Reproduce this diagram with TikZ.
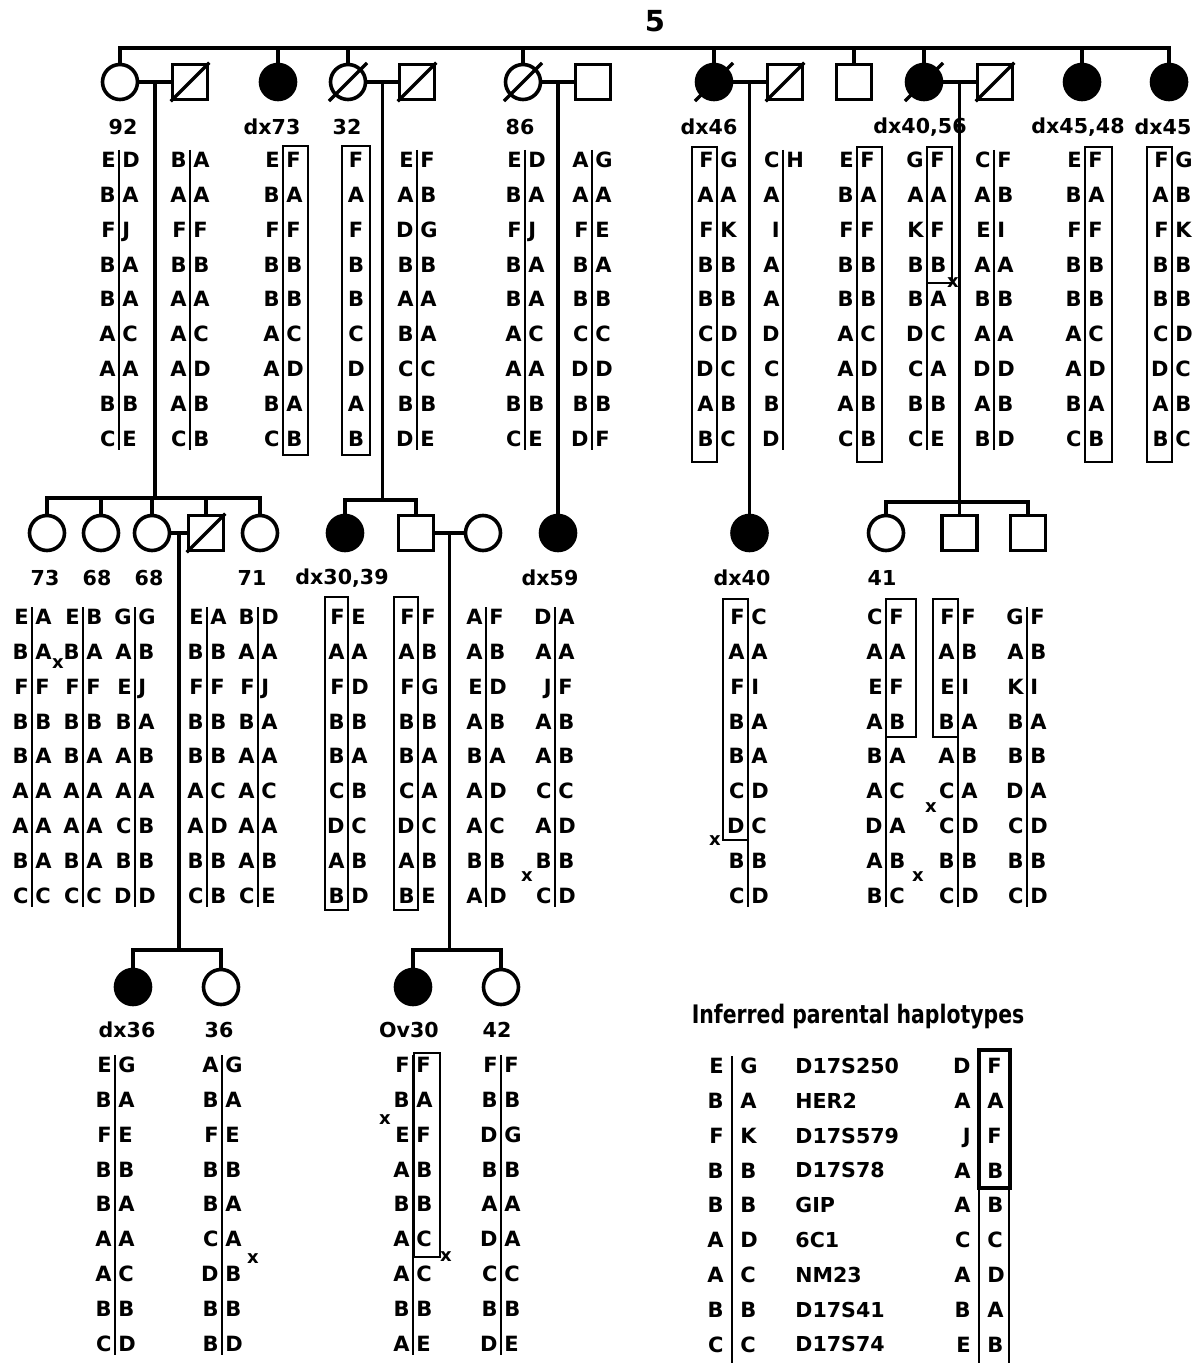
\documentclass[tikz,border=0pt]{standalone}
\usepackage{fontspec}
\setmainfont{DejaVu Sans}
\usetikzlibrary{calc}

\newcommand{\allelefont}{\fontsize{10.5}{12}\selectfont\bfseries}
\newcommand{\labelfont}{\fontsize{10.3}{12}\selectfont\bfseries}
\newcommand{\crossfont}{\fontsize{9}{9}\selectfont\bfseries}
\newcommand{\rowstep}{34.8}

% haplotype pair: [gap]{name}{x of bar}{y of first row}{left alleles}{right alleles}
\newcommand{\geno}[6][3]{%
  \draw[hapline] (#3,#4-10) -- (#3,#4+290);
  \foreach \a [count=\i from 0] in {#5}
    \node[allele, anchor=east] (#2-l\i) at (#3-#1,#4+\i*\rowstep) {\a};
  \foreach \a [count=\i from 0] in {#6}
    \node[allele, anchor=west] (#2-r\i) at (#3+#1,#4+\i*\rowstep) {\a};
}

% slash through a deceased symbol
\newcommand{\deceased}[2][1]{%
  \draw[link] ($(#2.center)!#1!(#2.south west)$) -- ($(#2.center)!#1!(#2.north east)$);}

\begin{document}
\begin{tikzpicture}[
    x=0.5pt, y=-0.5pt,
    female/.style={circle, draw, line width=1.8pt, minimum size=17.5pt, inner sep=0pt},
    male/.style={rectangle, draw, line width=1.8pt, minimum size=17.5pt, inner sep=0pt},
    affected/.style={fill=black},
    link/.style={line width=1.6pt},
    hapline/.style={line width=0.8pt},
    hapbox/.style={line width=0.8pt},
    allele/.style={font=\allelefont, inner sep=0pt, text height=7.7pt, text depth=0pt},
    idlabel/.style={font=\labelfont, inner sep=0pt},
    cross/.style={font=\crossfont, inner sep=0pt}
]
\useasboundingbox (0,0) rectangle (1199,1363);

\node[font=\fontsize{14.5}{16}\selectfont\bfseries] (famno) at (655,21) {5};

% Generation I
\node[female] (p92) at (120,82) {};
\node[male] (s92) at (190,82) {};
\node[female, affected] (pdx73) at (278,82) {};
\node[female] (p32) at (348,82) {};
\node[male] (s32) at (417,82) {};
\node[female] (p86) at (523,82) {};
\node[male] (s86) at (593,82) {};
\node[female, affected] (pdx46) at (714,82) {};
\node[male] (s46) at (785,82) {};
\node[male] (b854) at (854,82) {};
\node[female, affected] (pdx4056) at (924,82) {};
\node[male] (s4056) at (995,82) {};
\node[female, affected] (pdx4548) at (1082,82) {};
\node[female, affected] (pdx45) at (1169,82) {};

\foreach \n in {s92,s32,s46,s4056} \deceased{\n};
\foreach \n in {p32,p86,pdx46,pdx4056} \deceased[1.4]{\n};

\coordinate (top) at (655,48);
\draw[link] (p92.north) |- (top) -| (pdx45.north);
\foreach \n in {pdx73,p32,p86,pdx46,b854,pdx4056,pdx4548}
  \draw[link] (\n.north) -- (\n.north |- top);

% couples of generation I
\foreach \w/\h in {p92/s92,p32/s32,p86/s86,pdx46/s46,pdx4056/s4056}
  \draw[link] (\w) -- (\h);
\coordinate (m92) at ($(p92)!0.5!(s92)$);
\coordinate (m32) at ($(p32)!0.5!(s32)$);
\coordinate (m86) at ($(p86)!0.5!(s86)$);
\coordinate (m46) at ($(pdx46)!0.5!(s46)$);
\coordinate (m4056) at ($(pdx4056)!0.5!(s4056)$);

\node[idlabel] (l92) at (123,127) {92};
\node[idlabel] (ldx73) at (272,127) {dx73};
\node[idlabel] (l32) at (347,127) {32};
\node[idlabel] (l86) at (520,127) {86};
\node[idlabel] (ldx46) at (709,127) {dx46};
\node[idlabel] (ldx4056) at (920,127) {dx40,56};
\node[idlabel] (ldx4548) at (1078,127) {dx45,48};
\node[idlabel] (ldx45) at (1163,127) {dx45};

% haplotypes, generation I
\geno{g92}{119}{160}{E,B,F,B,B,A,A,B,C}{D,A,J,A,A,C,A,B,E}
\geno{g92s}{190}{160}{B,A,F,B,A,A,A,A,C}{A,A,F,B,A,C,D,B,B}
\geno{gdx73}{283}{160}{E,B,F,B,B,A,A,B,C}{F,A,F,B,B,C,D,A,B}
\draw[hapbox] (283,146) rectangle (308,455);
\foreach \a [count=\i from 0] in {F,A,F,B,B,C,D,A,B}
  \node[allele] (g32-\i) at (356,160+\i*\rowstep) {\a};
\draw[hapbox] (342,146) rectangle (370,455);
\geno{g32s}{417}{160}{E,A,D,B,A,B,C,B,D}{F,B,G,B,A,A,C,B,E}
\geno{g86}{525}{160}{E,B,F,B,B,A,A,B,C}{D,A,J,A,A,C,A,B,E}
\geno{g86s}{592}{160}{A,A,F,B,B,C,D,B,D}{G,A,E,A,B,C,D,B,F}
\geno{gdx46}{717}{160}{F,A,F,B,B,C,D,A,B}{G,A,K,B,B,D,C,B,C}
\draw[hapbox] (692,147) rectangle (717,462);
\geno{g46s}{783}{160}{C,A,I,A,A,D,C,B,D}{H}
\geno{g854}{857}{160}{E,B,F,B,B,A,A,A,C}{F,A,F,B,B,C,D,B,B}
\draw[hapbox] (857,147) rectangle (882,462);
\geno{gdx4056}{927}{160}{G,A,K,B,B,D,C,B,C}{F,A,F,B,A,C,A,B,E}
\draw[hapbox] (927,147) rectangle (952,283);
\node[cross] (xdx4056) at (953,283) {x};
\geno{g4056s}{994}{160}{C,A,E,A,B,A,D,A,B}{F,B,I,A,B,A,D,B,D}
\geno{gdx4548}{1085}{160}{E,B,F,B,B,A,A,B,C}{F,A,F,B,B,C,D,A,B}
\draw[hapbox] (1085,147) rectangle (1112,462);
\geno{gdx45}{1172}{160}{F,A,F,B,B,C,D,A,B}{G,B,K,B,B,D,C,B,C}
\draw[hapbox] (1147,147) rectangle (1172,462);

% Generation II
\node[female] (c73) at (47,533) {};
\node[female] (c68a) at (101,533) {};
\node[female] (c68b) at (152,533) {};
\node[male] (s68) at (206,533) {};
\node[female] (c71) at (260,533) {};
\node[female, affected] (pdx3039) at (345,533) {};
\node[male] (s417) at (416,533) {};
\node[female] (w483) at (483,533) {};
\node[female, affected] (pdx59) at (558,533) {};
\node[female, affected] (pdx40) at (749.5,533) {};
\node[female] (c41) at (886,533) {};
\node[male] (b958) at (959.5,533) {};
\node[male] (b1028) at (1028,533) {};
\deceased{s68}

\coordinate (sib92) at ($(m92)+(0,416)$);
\draw[link] (m92) -- (sib92);
\draw[link] (c73.north) |- (sib92) -| (c71.north);
\foreach \n in {c68a,c68b,s68} \draw[link] (\n.north) -- (\n.north |- sib92);

\coordinate (sib32) at ($(m32)+(0,418)$);
\draw[link] (m32) -- (sib32);
\draw[link] (pdx3039.north) |- (sib32) -| (s417.north);

\draw[link] (m86) -- (pdx59);
\draw[link] (m46) -- (pdx40);

\coordinate (sib4056) at ($(m4056)+(0,420)$);
\draw[link] (m4056) -- (sib4056);
\draw[link] (c41.north) |- (sib4056) -| (b1028.north);
\draw[link] (sib4056) -- (b958);

\draw[link] (c68b) -- (s68);
\draw[link] (s417) -- (w483);
\coordinate (m68) at ($(c68b)!0.5!(s68)$);
\coordinate (m417) at ($(s417)!0.5!(w483)$);

\node[idlabel] (l73) at (45,578) {73};
\node[idlabel] (l68a) at (97,578) {68};
\node[idlabel] (l68b) at (149,578) {68};
\node[idlabel] (l71) at (252,578) {71};
\node[idlabel] (ldx3039) at (342,578) {dx30,39};
\node[idlabel] (ldx59) at (550,578) {dx59};
\node[idlabel] (ldx40) at (742,578) {dx40};
\node[idlabel] (l41) at (882,578) {41};

% haplotypes, generation II
\geno{g73}{32}{617}{E,B,F,B,B,A,A,B,C}{A,A,F,B,A,A,A,A,C}
\node[cross] (x73) at (58,664) {x};
\geno{g68a}{83}{617}{E,B,F,B,B,A,A,B,C}{B,A,F,B,A,A,A,A,C}
\geno{g68b}{135}{617}{G,A,E,B,A,A,C,B,D}{G,B,J,A,B,A,B,B,D}
\geno{g68s}{207}{617}{E,B,F,B,B,A,A,B,C}{A,B,F,B,B,C,D,B,B}
\geno{g71}{258}{617}{B,A,F,B,A,A,A,A,C}{D,A,J,A,A,C,A,B,E}
\geno{gdx3039}{348}{617}{F,A,F,B,B,C,D,A,B}{E,A,D,B,A,B,C,B,D}
\draw[hapbox] (325,597) rectangle (348,910);
\geno{g417}{418}{617}{F,A,F,B,B,C,D,A,B}{F,B,G,B,A,A,C,B,E}
\draw[hapbox] (394,597) rectangle (418,910);
\geno{g483}{486}{617}{A,A,E,A,B,A,A,B,A}{F,B,D,B,A,D,C,B,D}
\geno{gdx59}{555}{617}{D,A,J,A,A,C,A,B,C}{A,A,F,B,B,C,D,B,D}
\node[cross] (xdx59) at (527,877) {x};
\geno{gdx40}{748}{617}{F,A,F,B,B,C,D,B,C}{C,A,I,A,A,D,C,B,D}
\draw[hapbox] (723,599) rectangle (748,840);
\node[cross] (xdx40) at (715,841) {x};
\geno{g41}{886}{617}{C,A,E,A,B,A,D,A,B}{F,A,F,B,A,C,A,B,C}
\draw[hapbox] (886,599) rectangle (916,737);
\node[cross] (x41) at (918,877) {x};
\geno{g958}{958}{617}{F,A,E,B,A,C,C,B,C}{F,B,I,A,B,A,D,B,D}
\draw[hapbox] (933,599) rectangle (958,737);
\node[cross] (x958) at (931,808) {x};
\geno{g1028}{1027}{617}{G,A,K,B,B,D,C,B,C}{F,B,I,A,B,A,D,B,D}

% Generation III
\node[female, affected] (pdx36) at (133,987) {};
\node[female] (c36) at (221,987) {};
\node[female, affected] (pov30) at (413,987) {};
\node[female] (c42) at (501,987) {};

\coordinate (sib68) at ($(m68)+(0,417)$);
\draw[link] (m68) -- (sib68);
\draw[link] (pdx36.north) |- (sib68) -| (c36.north);
\coordinate (sib417) at ($(m417)+(0,417)$);
\draw[link] (m417) -- (sib417);
\draw[link] (pov30.north) |- (sib417) -| (c42.north);

\node[idlabel] (ldx36) at (127,1030) {dx36};
\node[idlabel] (l36) at (219,1030) {36};
\node[idlabel] (lov30) at (409,1030) {Ov30};
\node[idlabel] (l42) at (497,1030) {42};

% haplotypes, generation III
\geno{gdx36}{115}{1065}{E,B,F,B,B,A,A,B,C}{G,A,E,B,A,A,C,B,D}
\geno{g36}{222}{1065}{A,B,F,B,B,C,D,B,B}{G,A,E,B,A,A,B,B,D}
\node[cross] (x36) at (253,1259) {x};
\geno{gov30}{413}{1065}{F,B,E,A,B,A,A,B,A}{F,A,F,B,B,C,C,B,E}
\draw[hapbox] (414,1053) rectangle (440,1257);
\node[cross] (xov30a) at (385,1120) {x};
\node[cross] (xov30b) at (446,1257) {x};
\geno{g42}{501}{1065}{F,B,D,B,A,D,C,B,D}{F,B,G,B,A,A,C,B,E}

% Inferred parental haplotypes
\node[font=\fontsize{10.2}{14}\selectfont\bfseries] (inferred) at (858,1017)
  {\scalebox{1}[1.25]{Inferred parental haplotypes}};
\geno[8]{hp1}{732}{1066}{E,B,F,B,B,A,A,B,C}{G,A,K,B,B,D,C,B,C}
\draw[hapline] (732,1350) -- (732,1370);
\foreach \m [count=\i from 0] in {D17S250,HER2,D17S579,D17S78,GIP,6C1,NM23,D17S41,D17S74}
  \node[idlabel, anchor=west] (mk\i) at (795,1066+\i*\rowstep) {\m};
\geno[8]{hp2}{979}{1066}{D,A,J,A,A,C,A,B,E}{F,A,F,B,B,C,D,A,B}
\draw[hapline] (979,1350) -- (979,1370);
\draw[line width=1.6pt] (979,1050) rectangle (1010,1188);
\draw[hapbox] (979,1188) rectangle (1009,1375);

\end{tikzpicture}
\end{document}
